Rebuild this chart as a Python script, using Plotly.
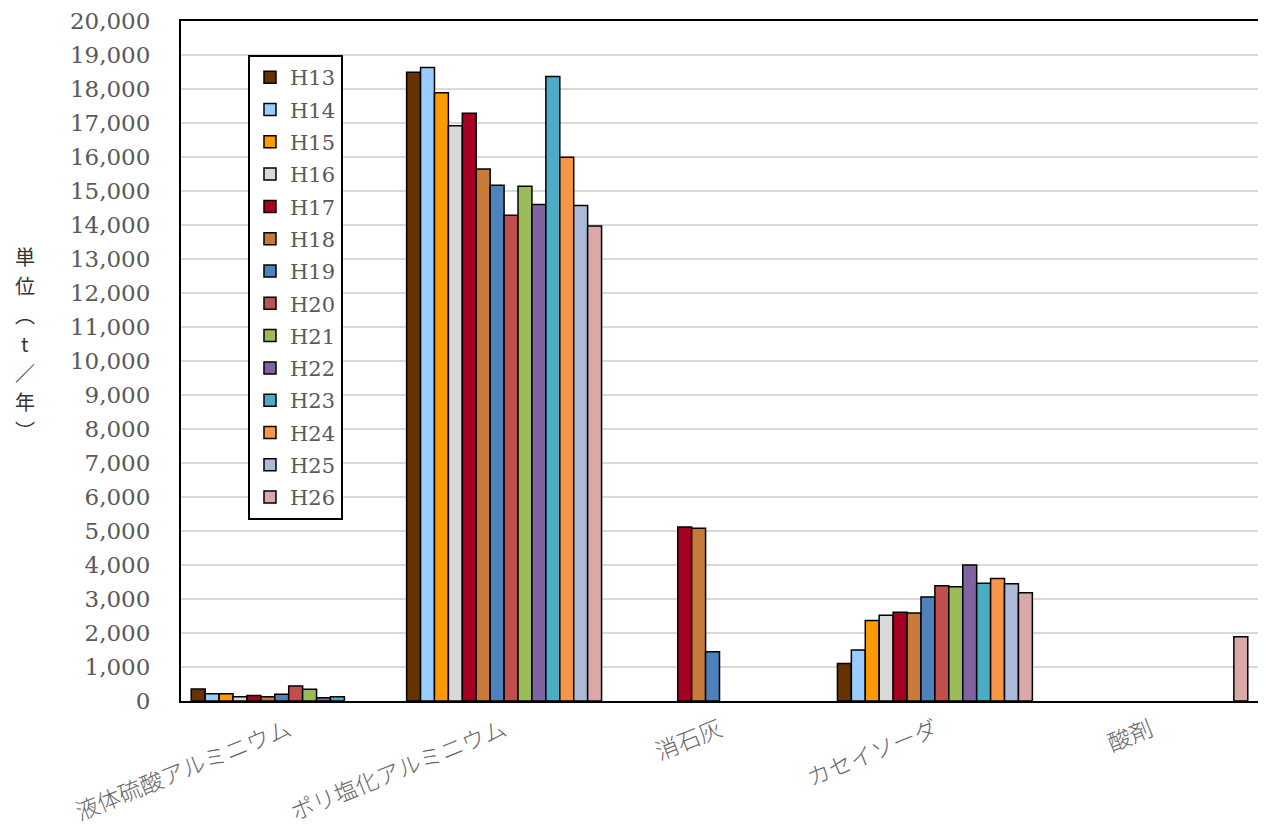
import plotly.graph_objects as go

categories = ["液体硫酸アルミニウム", "ポリ塩化アルミニウム", "消石灰", "カセイソーダ", "酸剤"]
years = ["H13", "H14", "H15", "H16", "H17", "H18", "H19", "H20", "H21", "H22", "H23", "H24", "H25", "H26"]

# values per year: [液体硫酸アルミニウム, ポリ塩化アルミニウム, 消石灰, カセイソーダ, 酸剤]
H13 = [350, 18490, None, 1100, None]
H14 = [215, 18630, None, 1500, None]
H15 = [215, 17890, None, 2370, None]
H16 = [125, 16920, None, 2520, None]
H17 = [165, 17290, 5120, 2610, None]
H18 = [125, 15650, 5080, 2590, None]
H19 = [195, 15170, 1450, 3060, None]
H20 = [440, 14290, None, 3390, None]
H21 = [345, 15140, None, 3360, None]
H22 = [95, 14600, None, 4000, None]
H23 = [125, 18370, None, 3460, None]
H24 = [None, 15990, None, 3600, None]
H25 = [None, 14570, None, 3450, None]
H26 = [None, 13970, None, 3185, 1890]

series = [H13, H14, H15, H16, H17, H18, H19, H20, H21, H22, H23, H24, H25, H26]
colors = ["#663300", "#99CCFF", "#FF9900", "#D9D9D9", "#A50021", "#C87A3A", "#4F81BD",
          "#C0504D", "#9BBB59", "#8064A2", "#4BACC6", "#F79646", "#ACB9D7", "#DAA8A8"]

y_ticks = list(range(0, 20001, 1000))
y_title_chars = ["単", "位", "︵", "t", "／", "年", "︶"]

fig = go.Figure()
for name, vals, col in zip(years, series, colors):
    fig.add_trace(go.Bar(
        name=name, x=categories, y=vals, legendgroup=name,
        marker=dict(color=col, line=dict(color="black", width=1.5)),
    ))

# the page body adds an 8px margin, so the figure is 8px smaller and margins are offset
fig.update_layout(
    width=1258, height=831,
    margin=dict(l=173, r=8, t=13, b=138),
    plot_bgcolor="white", paper_bgcolor="white",
    barmode="group", bargap=0.095, bargroupgap=0,
    font=dict(family="DejaVu Serif", color="#595959"),
    legend=dict(
        x=0.0622, y=0.608, xanchor="left", yanchor="middle",
        bordercolor="black", borderwidth=2, bgcolor="white",
        font=dict(family="DejaVu Serif", size=21, color="#595959"),
        tracegroupgap=2, traceorder="grouped",
    ),
    showlegend=True,
)
fig.update_xaxes(
    showline=True, linecolor="black", linewidth=2, mirror=True,
    tickangle=-22, ticks="", automargin=False, ticklabelstandoff=5,
    tickfont=dict(family="Noto Sans CJK JP", size=23, color="#666666", weight=300),
)
fig.update_yaxes(
    range=[0, 20000], tickvals=y_ticks, tickformat=",",
    showline=True, linecolor="black", linewidth=2, mirror=True,
    showgrid=True, gridcolor="#D9D9D9", gridwidth=2,
    zeroline=False, ticks="", ticklabelstandoff=24, automargin=False,
    tickfont=dict(family="DejaVu Serif", size=23, color="#595959"),
)
n = len(y_title_chars)
for i, ch in enumerate(y_title_chars):
    fig.add_annotation(
        text=ch, xref="paper", yref="paper", x=-0.1448, y=0.5257,
        xanchor="center", yanchor="middle", showarrow=False,
        yshift=-(i - (n - 1) / 2) * 29,
        font=dict(family="Noto Sans CJK JP", size=20, color="#333333"),
    )

fig.write_html("out.html")
